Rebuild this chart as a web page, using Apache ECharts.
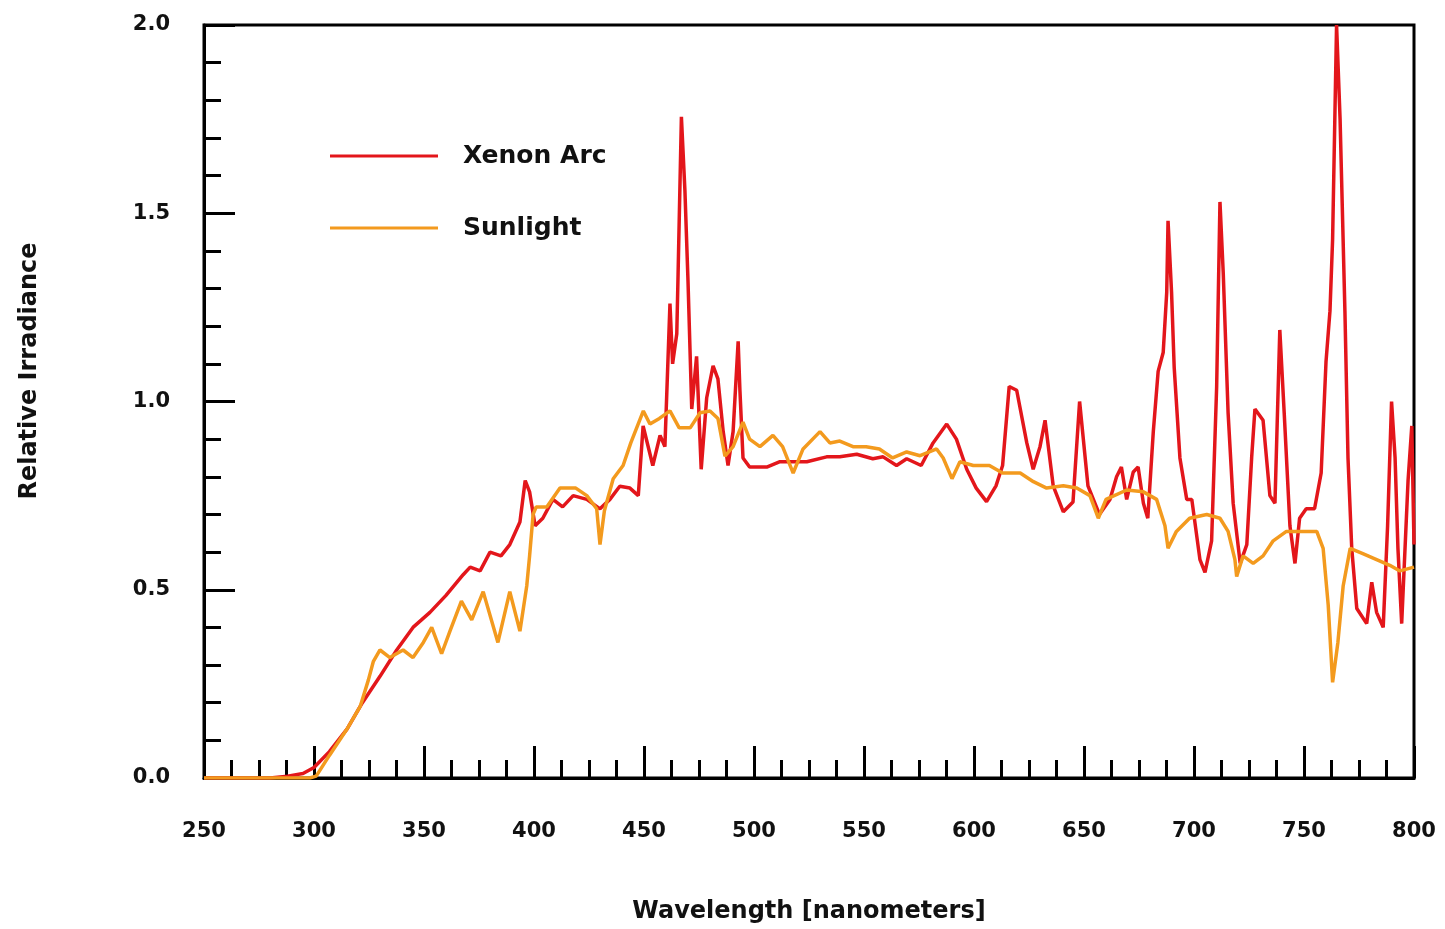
<!DOCTYPE html>
<html>
<head>
<meta charset="utf-8">
<title>Relative Irradiance: Xenon Arc vs Sunlight</title>
<script src="https://cdn.jsdelivr.net/npm/echarts@6/dist/echarts.min.js"></script>
<style>
  html, body { margin: 0; padding: 0; background: #fff; }
  #chart { width: 1445px; height: 929px; }
</style>
</head>
<body>
<div id="chart"></div>
<script>
// Xenon arc lamp spectrum: wavelength (nm) and relative irradiance
const xenonWl = [250, 280, 288, 295, 300, 307, 315, 322, 330, 337.6, 345, 352.7, 360, 367.8, 371, 375.5, 380, 385, 389, 393.6,
  396, 398, 400.5, 404, 408.6, 413, 417.8, 424, 430, 434.5, 439, 443.6, 447.4, 449.6, 454, 457.3, 459.5, 461.8, 463, 464.9,
  465.5, 467, 468.6, 470, 471.7, 473.9, 476, 478.5, 481.4, 483.6, 486, 488.2, 490.5, 492.8, 493.6, 495, 498, 505.8, 511.8, 519,
  524, 533, 539, 546.7, 554, 558.7, 564.8, 569.4, 576, 581.4, 587.6, 592, 596.7, 601, 605.7, 610, 613, 616, 619.4, 624,
  626.9, 630, 632.3, 636, 640.6, 645, 648, 651.8, 657, 661.8, 664.8, 667, 669.4, 672.4, 674.6, 677, 679, 681.5, 683.7, 686,
  687.6, 688.2, 689.8, 691, 693.6, 696.7, 699, 702.7, 705, 708, 710.3, 711.8, 713.3, 715.5, 717.8, 721, 724, 726.2, 727.7, 731.4,
  734.5, 736.8, 739, 741, 743.6, 745.9, 748, 751, 754.8, 757.8, 760, 761.8, 763, 764.8, 766.4, 768.6, 770, 771.7, 774, 778.5,
  780.8, 783, 786, 788, 789.8, 791.4, 792.7, 794.4, 796, 797.3, 799, 800];
const xenonIrr = [0, 0, 0.005, 0.012, 0.028, 0.07, 0.13, 0.20, 0.27, 0.34, 0.40, 0.44, 0.485, 0.54, 0.56, 0.55, 0.60, 0.59, 0.62, 0.68,
  0.79, 0.76, 0.67, 0.69, 0.74, 0.72, 0.75, 0.74, 0.715, 0.74, 0.775, 0.77, 0.75, 0.935, 0.83, 0.91, 0.88, 1.26, 1.10, 1.18,
  1.34, 1.756, 1.56, 1.32, 0.98, 1.12, 0.82, 1.01, 1.095, 1.06, 0.92, 0.83, 0.92, 1.16, 1.03, 0.85, 0.826, 0.826, 0.84, 0.84,
  0.84, 0.853, 0.853, 0.86, 0.848, 0.853, 0.83, 0.848, 0.83, 0.89, 0.94, 0.90, 0.82, 0.77, 0.734, 0.776, 0.83, 1.04, 1.03, 0.89,
  0.82, 0.88, 0.95, 0.776, 0.707, 0.733, 1.0, 0.776, 0.70, 0.74, 0.80, 0.826, 0.74, 0.813, 0.826, 0.73, 0.69, 0.92, 1.08, 1.13,
  1.29, 1.48, 1.29, 1.09, 0.85, 0.74, 0.74, 0.58, 0.546, 0.63, 1.04, 1.53, 1.34, 0.97, 0.73, 0.57, 0.62, 0.85, 0.98, 0.95,
  0.75, 0.73, 1.19, 0.97, 0.67, 0.57, 0.69, 0.715, 0.715, 0.81, 1.105, 1.24, 1.43, 2.0, 1.75, 1.24, 0.85, 0.61, 0.45, 0.41,
  0.52, 0.44, 0.40, 0.67, 1.0, 0.85, 0.61, 0.41, 0.62, 0.79, 0.935, 0.62];

// Sunlight spectrum: wavelength (nm) and relative irradiance
const sunWl = [250, 298, 301, 307, 315, 321, 324.7, 327, 330, 334.5, 340.5, 345, 349.7, 353.5, 358, 361.8, 367, 371.7, 376.9, 383.6,
  389, 393.6, 396.7, 398, 399.6, 401, 405.8, 411.8, 419, 424, 428.5, 430, 432, 436, 440.5, 444, 449.7, 452.7, 457, 461.8,
  466, 471, 475.5, 480, 483.6, 486.8, 490.5, 495, 498, 502.7, 508.6, 513, 517.8, 522.3, 530, 534.5, 539, 545, 551, 557,
  563, 569.4, 575.5, 583, 586, 590, 593.6, 599.7, 607, 613, 621, 627, 633, 640.6, 646.7, 652.7, 656.5, 660, 669.4, 677,
  683, 686.8, 688.2, 692, 698, 705.8, 711.8, 715.5, 718.6, 719.4, 722.3, 726.9, 731.4, 736, 742, 748, 755.8, 758.7, 761, 763,
  765.4, 767.8, 771, 777, 783, 789, 793.6, 800];
const sunIrr = [0, 0, 0.005, 0.06, 0.13, 0.19, 0.26, 0.31, 0.34, 0.32, 0.34, 0.32, 0.36, 0.40, 0.33, 0.39, 0.47, 0.42, 0.495, 0.36,
  0.495, 0.39, 0.51, 0.59, 0.70, 0.72, 0.72, 0.77, 0.77, 0.75, 0.715, 0.62, 0.71, 0.795, 0.83, 0.89, 0.975, 0.94, 0.955, 0.975,
  0.93, 0.93, 0.97, 0.975, 0.955, 0.855, 0.88, 0.945, 0.90, 0.88, 0.91, 0.88, 0.81, 0.874, 0.92, 0.89, 0.895, 0.88, 0.88, 0.874,
  0.85, 0.866, 0.856, 0.874, 0.85, 0.795, 0.84, 0.83, 0.83, 0.81, 0.81, 0.787, 0.77, 0.776, 0.77, 0.75, 0.69, 0.74, 0.765, 0.76,
  0.74, 0.67, 0.61, 0.655, 0.69, 0.70, 0.69, 0.655, 0.58, 0.535, 0.59, 0.57, 0.59, 0.63, 0.655, 0.655, 0.655, 0.61, 0.46, 0.254,
  0.36, 0.51, 0.61, 0.595, 0.58, 0.565, 0.55, 0.56];

const seriesNames = ['Xenon Arc', 'Sunlight'];
const seriesColors = ['#e3161b', '#f39a1e'];
const xAxisTitle = 'Wavelength [nanometers]';
const yAxisTitle = 'Relative Irradiance';

const pairs = (xs, ys) => xs.map((x, i) => [x, ys[i]]);

const FONT = '"DejaVu Sans", sans-serif';
const chart = echarts.init(document.getElementById('chart'), null, { renderer: 'canvas' });

chart.setOption({
  animation: false,
  backgroundColor: '#ffffff',
  grid: {
    left: 204, top: 25, width: 1210, height: 755,
    show: true, borderColor: '#000', borderWidth: 3, backgroundColor: 'transparent'
  },
  legend: {
    left: 325, top: 136,
    orient: 'vertical',
    icon: 'rect',
    itemWidth: 108, itemHeight: 3,
    itemGap: 42,
    data: seriesNames,
    textStyle: { fontFamily: FONT, fontWeight: 'bold', fontSize: 25, color: '#111', lineHeight: 30, padding: [0, 0, 0, 20] }
  },
  xAxis: {
    type: 'value', min: 250, max: 800, interval: 50,
    name: xAxisTitle, nameLocation: 'middle', nameGap: 122,
    nameTextStyle: { fontFamily: FONT, fontWeight: 'bold', fontSize: 24, color: '#111' },
    axisLine: { show: true, lineStyle: { color: '#000', width: 3 } },
    axisTick: { show: true, inside: true, length: 32, lineStyle: { color: '#000', width: 3 } },
    minorTick: { show: true, splitNumber: 4, length: 18, lineStyle: { color: '#000', width: 3 } },
    splitLine: { show: false },
    axisLabel: { margin: 43, fontFamily: FONT, fontWeight: 'bold', fontSize: 21, color: '#111' }
  },
  yAxis: {
    type: 'value', min: 0, max: 2, interval: 0.5,
    axisLine: { show: true, lineStyle: { color: '#000', width: 3 } },
    axisTick: { show: true, inside: true, length: 31, lineStyle: { color: '#000', width: 3 } },
    minorTick: { show: true, splitNumber: 5, length: 17, lineStyle: { color: '#000', width: 3 } },
    splitLine: { show: false },
    axisLabel: {
      margin: 34, fontFamily: FONT, fontWeight: 'bold', fontSize: 21, color: '#111',
      formatter: v => v.toFixed(1)
    }
  },
  graphic: [{
    type: 'text',
    x: 30, y: 371,
    rotation: Math.PI / 2,
    style: {
      text: yAxisTitle, fill: '#111',
      font: 'bold 24px "DejaVu Sans", sans-serif',
      align: 'center', verticalAlign: 'middle'
    }
  }],
  series: [
    {
      name: seriesNames[0], type: 'line', data: pairs(xenonWl, xenonIrr),
      showSymbol: false, symbol: 'none', clip: true,
      lineStyle: { color: seriesColors[0], width: 3.5 }, itemStyle: { color: seriesColors[0] },
      z: 2
    },
    {
      name: seriesNames[1], type: 'line', data: pairs(sunWl, sunIrr),
      showSymbol: false, symbol: 'none', clip: true,
      lineStyle: { color: seriesColors[1], width: 3.5 }, itemStyle: { color: seriesColors[1] },
      z: 3
    }
  ]
});
</script>
</body>
</html>
